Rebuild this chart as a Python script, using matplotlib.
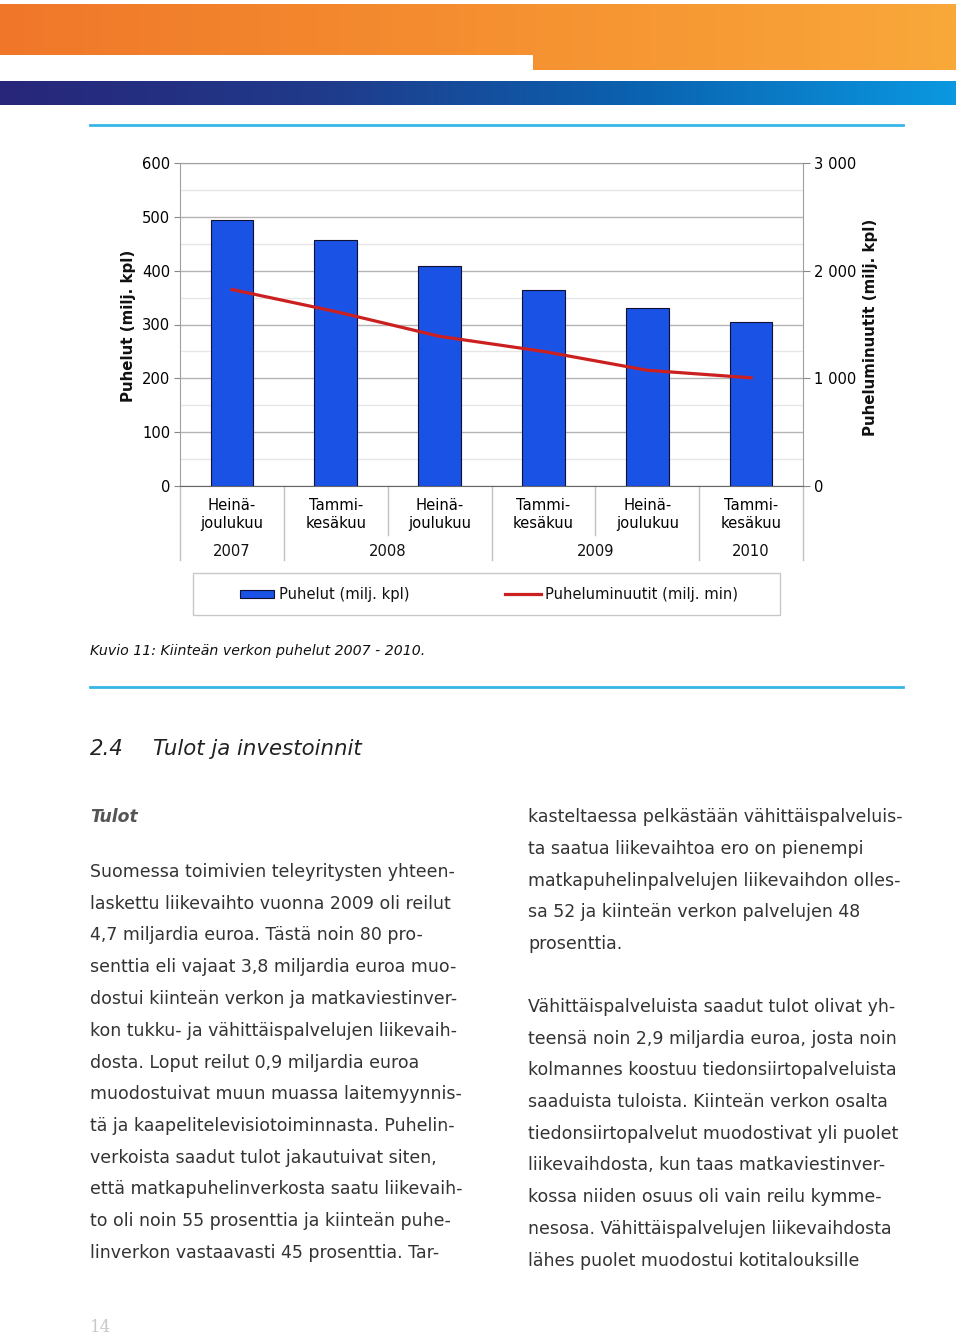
import numpy as np
from matplotlib import pyplot as plt
from matplotlib.patches import Rectangle
from matplotlib.colors import LinearSegmentedColormap

# 数据
jaksot    = ['Heinä-\njoulukuu', 'Tammi-\nkesäkuu', 'Heinä-\njoulukuu',
             'Tammi-\nkesäkuu', 'Heinä-\njoulukuu', 'Tammi-\nkesäkuu']
vuodet    = ['2007', '2008', '2009', '2010']
vuosi_x   = [0, 1.5, 3.5, 5]
puhelut   = [495, 457, 409, 364, 330, 305]
minuutit  = [1825, 1620, 1390, 1250, 1075, 1005]

vasen_ticks  = [0, 100, 200, 300, 400, 500, 600]
oikea_ticks  = [0, 1000, 2000, 3000]
oikea_labels = ['0', '1 000', '2 000', '3 000']

vasen_sarake = [
    'Suomessa toimivien teleyritysten yhteen-',
    'laskettu liikevaihto vuonna 2009 oli reilut',
    '4,7 miljardia euroa. Tästä noin 80 pro-',
    'senttia eli vajaat 3,8 miljardia euroa muo-',
    'dostui kiinteän verkon ja matkaviestinver-',
    'kon tukku- ja vähittäispalvelujen liikevaih-',
    'dosta. Loput reilut 0,9 miljardia euroa',
    'muodostuivat muun muassa laitemyynnis-',
    'tä ja kaapelitelevisiotoiminnasta. Puhelin-',
    'verkoista saadut tulot jakautuivat siten,',
    'että matkapuhelinverkosta saatu liikevaih-',
    'to oli noin 55 prosenttia ja kiinteän puhe-',
    'linverkon vastaavasti 45 prosenttia. Tar-',
]
oikea_sarake_1 = [
    'kasteltaessa pelkästään vähittäispalveluis-',
    'ta saatua liikevaihtoa ero on pienempi',
    'matkapuhelinpalvelujen liikevaihdon olles-',
    'sa 52 ja kiinteän verkon palvelujen 48',
    'prosenttia.',
]
oikea_sarake_2 = [
    'Vähittäispalveluista saadut tulot olivat yh-',
    'teensä noin 2,9 miljardia euroa, josta noin',
    'kolmannes koostuu tiedonsiirtopalveluista',
    'saaduista tuloista. Kiinteän verkon osalta',
    'tiedonsiirtopalvelut muodostivat yli puolet',
    'liikevaihdosta, kun taas matkaviestinver-',
    'kossa niiden osuus oli vain reilu kymme-',
    'nesosa. Vähittäispalvelujen liikevaihdosta',
    'lähes puolet muodostui kotitalouksille',
]

W, H = 960, 1336
plt.rcParams['font.family'] = ['DejaVu Sans']

fig = plt.figure(figsize=(W / 100, H / 100), dpi=100)

# 背景 (像素坐标)
bg = fig.add_axes([0, 0, 1, 1], zorder=0)
bg.set_xlim(0, W)
bg.set_ylim(H, 0)
bg.axis('off')

oranssi = LinearSegmentedColormap.from_list('o', ['#f0772a', '#f58f30', '#f9a83a'])
sininen = LinearSegmentedColormap.from_list('b', ['#28267a', '#203a8a', '#0a62b0', '#0b98e0'])
raja = 533 / 956
bg.imshow(np.linspace(0, raja, 256)[None, :], cmap=oranssi, extent=(0, 533, 55, 4),
          aspect='auto', vmin=0, vmax=1)
bg.imshow(np.linspace(raja, 1, 256)[None, :], cmap=oranssi, extent=(533, 956, 70, 4),
          aspect='auto', vmin=0, vmax=1)
bg.imshow(np.linspace(0, 1, 256)[None, :], cmap=sininen, extent=(0, 956, 105, 81), aspect='auto')
bg.plot([90, 903], [125, 125], color='#35b6e6', lw=2)
bg.plot([90, 903], [687, 687], color='#35b6e6', lw=2)

# 图表
def fx(px):
    return px / W

def fy(py):
    return 1 - py / H

ax = fig.add_axes([fx(180), fy(486), fx(803) - fx(180), fy(163) - fy(486)], zorder=2)
x = np.arange(len(puhelut))
palkit = ax.bar(x, puhelut, width=0.41, color='#1a52e6', edgecolor='#101030', linewidth=0.8, zorder=3)
ax.set_xlim(-0.5, 5.5)
ax.set_ylim(0, 600)
ax.set_yticks(vasen_ticks)
ax.set_yticks(np.arange(50, 600, 100), minor=True)
ax.grid(axis='y', which='major', color='#b4b4b4', lw=1, zorder=0)
ax.grid(axis='y', which='minor', color='#e6e6e6', lw=1, zorder=0)
ax.tick_params(axis='y', which='major', labelsize=10.6, length=4, color='#888888', pad=3)
ax.tick_params(axis='y', which='minor', length=0)
for s in ['top', 'left', 'right']:
    ax.spines[s].set_color('#a0a0a0')
ax.spines['bottom'].set_color('#666666')

ax.set_xticks(x, jaksot)
ax.tick_params(axis='x', length=0, labelsize=10.6, pad=9)

# 分隔线
tr = ax.get_xaxis_transform()
for b in [-0.5, 0.5, 1.5, 2.5, 3.5, 4.5, 5.5]:
    pituus = -0.152 if b in (1.5, 3.5) else -0.229
    ax.plot([b, b], [0, pituus], transform=tr, color='#c0c0c0', lw=1, clip_on=False)
for vx, v in zip(vuosi_x, vuodet):
    ax.text(vx, -0.203, v, transform=tr, ha='center', va='center', fontsize=10.6, color='#111111')

ax2 = ax.twinx()
ax2.set_zorder(3)
viiva, = ax2.plot(x, minuutit, color='#cc2020', lw=2.3)
ax2.set_ylim(0, 3000)
ax2.set_yticks(oikea_ticks, oikea_labels)
ax2.tick_params(axis='y', labelsize=10.6, length=5, color='#888888', pad=3)
for s in ax2.spines.values():
    s.set_visible(False)

fig.text(fx(128), fy(326), 'Puhelut (milj. kpl)', rotation=90, ha='center', va='center',
         fontsize=10.8, fontweight='bold', color='#111111')
fig.text(fx(870), fy(327), 'Puheluminuutit (milj. kpl)', rotation=90, ha='center', va='center',
         fontsize=10.8, fontweight='bold', color='#111111')

# 图例
bg.add_patch(Rectangle((193, 573), 587, 42, fill=False, edgecolor='#c8c8c8', lw=1))
bg.add_patch(Rectangle((240, 590), 34, 8, facecolor=palkit[0].get_facecolor(),
                       edgecolor='#101030', lw=0.8))
bg.plot([505, 541], [594, 594], color=viiva.get_color(), lw=2.3)
bg.text(279, 594, 'Puhelut (milj. kpl)', ha='left', va='center', fontsize=10.6, color='#111111')
bg.text(545, 594, 'Puheluminuutit (milj. min)', ha='left', va='center',
        fontsize=10.6, color='#111111')

# 文字
bg.text(90, 651, 'Kuvio 11: Kiinteän verkon puhelut 2007 - 2010.', ha='left', va='center',
        fontsize=10.2, style='italic', color='#111111')
bg.text(90, 749, '2.4', ha='left', va='center', fontsize=15.3, style='italic', color='#222222')
bg.text(153, 749, 'Tulot ja investoinnit', ha='left', va='center', fontsize=15.3,
        style='italic', color='#222222')
bg.text(90, 817, 'Tulot', ha='left', va='center', fontsize=12.4, style='italic',
        fontweight='bold', color='#555555')

for i, rivi in enumerate(vasen_sarake):
    bg.text(90, 872 + i * 31.75, rivi, ha='left', va='center', fontsize=12.5, color='#333333')
for i, rivi in enumerate(oikea_sarake_1):
    bg.text(528, 817 + i * 31.75, rivi, ha='left', va='center', fontsize=12.5, color='#333333')
for i, rivi in enumerate(oikea_sarake_2):
    bg.text(528, 1007 + i * 31.7, rivi, ha='left', va='center', fontsize=12.5, color='#333333')

bg.text(90, 1327, '14', ha='left', va='center', fontsize=12, family='DejaVu Serif', color='#c8c8c8')

fig.savefig('out.png', dpi=100)
